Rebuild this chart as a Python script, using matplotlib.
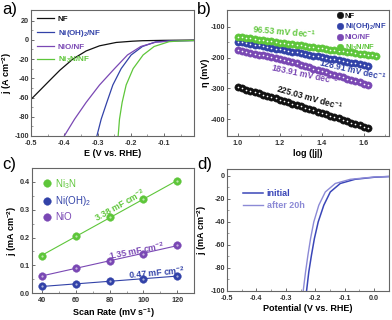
import numpy as np
import matplotlib
matplotlib.use("Agg")
import matplotlib.pyplot as plt

plt.rcParams['font.family'] = ['Liberation Sans', 'DejaVu Sans']
plt.rcParams['mathtext.default'] = 'regular'

# ---------------- data ----------------
# (a) polarization curves, E (V vs RHE) and j
a_nf_E = [-0.50, -0.443, -0.413, -0.374, -0.334, -0.294, -0.244, -0.195, -0.165, -0.10, -0.01]
a_nf_j = [-62, -42, -31.6, -20, -11.6, -6.3, -2.8, -1.5, -1.0, -0.6, -0.3]
a_nio_E = [-0.400, -0.369, -0.334, -0.294, -0.249, -0.210, -0.170, -0.125, -0.08, -0.01]
a_nio_j = [-100, -82.5, -65, -47, -30, -15.8, -7.0, -2.5, -1.4, -0.8]
a_ni_oh_E = [-0.302, -0.289, -0.272, -0.254, -0.229, -0.199, -0.165, -0.125, -0.08, -0.01]
a_ni_oh_j = [-100, -82.5, -65, -47, -30, -15.8, -7.0, -2.2, -1.2, -0.8]
a_ni3n_E = [-0.238, -0.234, -0.226, -0.214, -0.193, -0.163, -0.130, -0.085, -0.05, -0.01]
a_ni3n_j = [-100, -82.5, -65, -47, -30, -15.8, -7.0, -2.0, -1.2, -0.8]

# (b) Tafel plots
b_x_nf = [1.00, 1.02, 1.04, 1.06, 1.08, 1.10, 1.12, 1.14, 1.16, 1.18, 1.20, 1.22, 1.24, 1.26, 1.28, 1.30,
          1.32, 1.34, 1.36, 1.38, 1.40, 1.42, 1.44, 1.46, 1.48, 1.50, 1.52, 1.54, 1.56, 1.58, 1.60, 1.62]
b_y_nf = [-296.0, -300.0, -304.0, -308.1, -312.2, -316.3, -320.4, -324.5, -328.6, -332.8, -337.0, -341.2,
          -345.4, -349.7, -354.0, -358.3, -362.6, -366.9, -371.2, -375.6, -380.0, -384.4, -388.8, -393.3,
          -397.8, -402.3, -406.8, -411.3, -415.8, -420.4, -425.0, -429.6]
b_x_ni_oh = b_x_nf
b_y_ni_oh = [-148.0, -150.5, -153.0, -155.6, -158.1, -160.6, -163.1, -165.6, -168.2, -170.7, -173.2, -175.7,
             -178.2, -180.8, -183.3, -185.8, -188.3, -190.8, -193.4, -195.9, -198.4, -200.9, -203.4, -206.0,
             -208.5, -211.0, -213.5, -216.0, -218.6, -221.1, -223.6, -226.1]
b_x_nio = b_x_nf
b_y_nio = [-175.0, -178.0, -181.0, -184.0, -187.0, -190.0, -193.0, -196.0, -199.0, -202.0, -205.0, -208.0,
           -211.0, -214.0, -217.0, -223.5, -227.6, -231.6, -235.7, -239.8, -243.8, -247.9, -251.9, -256.0,
           -260.1, -264.1, -268.2, -272.2, -276.3, -280.4, -284.4, -288.5]
b_x_ni3n = [1.00, 1.02, 1.04, 1.06, 1.08, 1.10, 1.12, 1.14, 1.16, 1.18, 1.20, 1.22, 1.24, 1.26, 1.28, 1.30,
            1.32, 1.34, 1.36, 1.38, 1.40, 1.42, 1.44, 1.46, 1.48, 1.50, 1.52, 1.54, 1.56, 1.58, 1.60, 1.62,
            1.64, 1.66]
b_y_ni3n = [-132.0, -133.9, -135.8, -137.7, -139.6, -141.5, -143.4, -145.3, -147.2, -149.1, -151.0, -152.9,
            -154.8, -156.7, -158.6, -160.5, -162.4, -164.3, -166.2, -168.1, -170.0, -171.9, -173.8, -175.7,
            -177.6, -179.5, -181.4, -183.3, -185.2, -187.1, -189.0, -190.9, -192.8, -194.7]
b_slopes = ["96.53", "128.91", "183.91", "225.03"]

# (c) double-layer capacitance
c_scan = [40, 60, 80, 100, 120]
c_ni3n = [0.135, 0.205, 0.272, 0.340, 0.403]
c_ni_oh = [0.024, 0.033, 0.043, 0.052, 0.061]
c_nio = [0.062, 0.090, 0.117, 0.141, 0.172]
c_caps = ["3.38", "1.35", "0.47"]

# (d) stability
d_init_E = [-0.2296, -0.222, -0.213, -0.203, -0.190, -0.171, -0.149, -0.115, -0.065, 0.0, 0.05]
d_init_j = [-100, -83.5, -69, -54.5, -40, -25.5, -14, -6.6, -3.0, -1.2, -0.6]
d_aft_E = [-0.241, -0.233, -0.225, -0.216, -0.205, -0.188, -0.166, -0.132, -0.081, 0.0, 0.05]
d_aft_j = [-100, -83.5, -69, -54.5, -40, -25.5, -14, -6.6, -3.0, -1.0, -0.5]

# ---------------- style ----------------
C_NF = '#111111'
C_OH = '#3242a8'
C_NIO = '#7a48b4'
C_N = '#5ec63a'
C_D1 = '#3a46b8'
C_D2 = '#8c8ad6'

fig = plt.figure(figsize=(3.92, 3.2), dpi=100)
axa = fig.add_axes([0.079, 0.575, 0.416, 0.394])
axb = fig.add_axes([0.579, 0.575, 0.413, 0.394])
axc = fig.add_axes([0.082, 0.084, 0.413, 0.391])
axd = fig.add_axes([0.579, 0.091, 0.413, 0.381])

TL = 5.2
LBL = 6.5
for ax in (axa, axb, axc, axd):
    for s in ax.spines.values():
        s.set_color('#666666')
        s.set_linewidth(0.8)
    ax.tick_params(direction='in', length=2.5, width=0.6, colors='#555555', labelsize=TL,
                   labelcolor='#333333', pad=1.5)
    ax.tick_params(axis='x', pad=3)
    ax.tick_params(which='minor', direction='in', length=1.5, width=0.5, colors='#777777')

def boldticks(ax):
    for t in ax.get_xticklabels() + ax.get_yticklabels():
        t.set_fontweight('bold')

# ---- (a)
axa.plot(a_nf_E, a_nf_j, color=C_NF, lw=0.9, label='NF')
axa.plot(a_ni_oh_E, a_ni_oh_j, color=C_OH, lw=0.9, label='Ni(OH)$_2$/NF')
axa.plot(a_nio_E, a_nio_j, color=C_NIO, lw=0.9, label='NiO/NF')
axa.plot(a_ni3n_E, a_ni3n_j, color=C_N, lw=0.9, label='Ni$_3$N/NF')
axa.set_xlim(-0.5, -0.01)
axa.set_ylim(-100, 31)
axa.set_xticks([-0.5, -0.4, -0.3, -0.2, -0.1])
axa.set_xticklabels(['-0.5', '-0.4', '-0.3', '-0.2', '-0.1'])
axa.set_yticks([-100, -80, -60, -40, -20, 0, 20])
axa.set_yticklabels(['-100', '-80', '-60', '-40', '-20', '0', '20'])
axa.set_xticks(np.arange(-0.45, 0, 0.1), minor=True)
axa.set_yticks(np.arange(-90, 30, 20), minor=True)
axa.set_xlabel('E (V vs. RHE)', fontsize=LBL, fontweight='bold', labelpad=1.5)
axa.set_ylabel('j (A cm$^{-2}$)', fontsize=LBL, fontweight='bold', labelpad=0.5)
leg = axa.legend(loc='upper left', frameon=False, fontsize=5.8, handlelength=2.2, handletextpad=0.4,
                 labelspacing=0.55, borderaxespad=0.3, bbox_to_anchor=(0.0, 1.0))
for t, c in zip(leg.get_texts(), [C_NF, C_OH, C_NIO, C_N]):
    t.set_color(c); t.set_fontweight('bold')
boldticks(axa)

# ---- (b)
def tafel(ax, x, y, c, lab):
    ax.plot(x, y, 'o', ms=5.2, mfc=c, mec=c, mew=0.4, label=lab, zorder=2)
    ax.plot(x, y, 'o', ms=1.2, mfc='white', mec='white', mew=0, zorder=3)

tafel(axb, b_x_nf, b_y_nf, C_NF, 'NF')
tafel(axb, b_x_ni_oh, b_y_ni_oh, C_OH, 'Ni(OH)$_2$/NF')
tafel(axb, b_x_nio, b_y_nio, C_NIO, 'NiO/NF')
tafel(axb, b_x_ni3n, b_y_ni3n, C_N, 'Ni$_3$N/NF')
axb.set_xlim(0.948, 1.72)
axb.set_ylim(-455, -45)
axb.set_xticks([1.0, 1.2, 1.4, 1.6])
axb.set_xticklabels(['1.0', '1.2', '1.4', '1.6'])
axb.set_xticks([1.1, 1.3, 1.5, 1.7], minor=True)
axb.set_yticks([-400, -300, -200, -100])
axb.set_yticklabels(['-400', '-300', '-200', '-100'])
axb.set_yticks([-350, -250, -150], minor=True)
axb.set_xlabel('log (|j|)', fontsize=LBL, fontweight='bold', labelpad=1.5)
axb.set_ylabel('η (mV)', fontsize=LBL, fontweight='bold', labelpad=0.5)
h, l = axb.get_legend_handles_labels()
legb = axb.legend(h, l, loc='upper right', frameon=False, fontsize=5.5, handletextpad=0.1,
                  labelspacing=0.2, borderaxespad=0.15, markerscale=0.9, handlelength=1.0,
                  borderpad=0.2)
legb.set_zorder(10)
for t, c in zip(legb.get_texts(), [C_NF, C_OH, C_NIO, C_N]):
    t.set_color(c); t.set_fontweight('bold')
ann = dict(fontsize=6.2, fontweight='bold', ha='center', va='center')
axb.text(1.22, -118, b_slopes[0] + ' mV dec$^{-1}$', color=C_N, rotation=-5, **ann)
axb.text(1.545, -240, b_slopes[1] + ' mV dec$^{-1}$', color=C_OH, rotation=-13, **ann)
axb.text(1.32, -255, b_slopes[2] + ' mV dec$^{-1}$', color=C_NIO, rotation=-12, **ann)
axb.text(1.34, -330, b_slopes[3] + ' mV dec$^{-1}$', color=C_NF, rotation=-16, **ann)
boldticks(axb)

# ---- (c)
xs = np.array(c_scan, dtype=float)
labels_c = ['Ni$_3$N', 'Ni(OH)$_2$', 'NiO']
for ys, c, lab in zip([c_ni3n, c_ni_oh, c_nio], [C_N, C_OH, C_NIO], labels_c):
    p = np.polyfit(xs, ys, 1)
    axc.plot(xs, np.polyval(p, xs), color=c, lw=0.8, zorder=1)
    axc.plot(xs, ys, 'o', ms=5.5, mfc=c, mec=c, mew=0.3, label=lab, zorder=2)
    axc.plot(xs, ys, 'o', ms=1.6, mfc='white', mec='white', mew=0, alpha=0.6, zorder=3)
axc.set_xlim(34, 130)
axc.set_ylim(0, 0.45)
axc.set_xticks([40, 60, 80, 100, 120])
axc.set_xticks([50, 70, 90, 110], minor=True)
axc.set_yticks([0.0, 0.1, 0.2, 0.3, 0.4])
axc.set_yticklabels(['0.0', '0.1', '0.2', '0.3', '0.4'])
axc.set_yticks([0.05, 0.15, 0.25, 0.35], minor=True)
axc.set_xlabel('Scan Rate (mV s$^{-1}$)', fontsize=LBL, fontweight='bold', labelpad=1.5)
axc.set_ylabel('j (mA cm$^{-2}$)', fontsize=LBL, fontweight='bold', labelpad=1)
legc = axc.legend(loc='upper left', frameon=False, fontsize=7, handletextpad=0.3,
                  labelspacing=0.4, borderaxespad=0.5, handlelength=1.2)
for t, c in zip(legc.get_texts(), [C_N, C_OH, C_NIO]):
    t.set_color(c)
ann2 = dict(fontsize=6.3, fontweight='bold', ha='center', va='center')
axc.text(86, 0.315, c_caps[0] + ' mF cm$^{-2}$', color=C_N, rotation=29, **ann2)
axc.text(96, 0.152, c_caps[1] + ' mF cm$^{-2}$', color=C_NIO, rotation=11, **ann2)
axc.text(108, 0.075, c_caps[2] + ' mF cm$^{-2}$', color=C_OH, rotation=5, **ann2)
boldticks(axc)

# ---- (d)
axd.plot(d_init_E, d_init_j, color=C_D1, lw=1.1, label='initial')
axd.plot(d_aft_E, d_aft_j, color=C_D2, lw=1.0, label='after 20h')
axd.set_xlim(-0.5, 0.05)
axd.set_ylim(-100, 6)
axd.set_xticks([-0.5, -0.4, -0.3, -0.2, -0.1, 0.0])
axd.set_xticklabels(['-0.5', '-0.4', '-0.3', '-0.2', '-0.1', '0.0'])
axd.set_xticks([-0.45, -0.35, -0.25, -0.15, -0.05], minor=True)
axd.set_yticks([-100, -80, -60, -40, -20, 0])
axd.set_yticklabels(['-100', '-80', '-60', '-40', '-20', '0'])
axd.set_yticks([-90, -70, -50, -30, -10], minor=True)
axd.set_xlabel('Potential (V vs. RHE)', fontsize=LBL, fontweight='bold', labelpad=1.5)
axd.set_ylabel('j (mA cm$^{-2}$)', fontsize=LBL, fontweight='bold', labelpad=1)
legd = axd.legend(loc='upper left', frameon=False, fontsize=6.5, handlelength=2.2, handletextpad=0.4,
                  labelspacing=0.3, bbox_to_anchor=(0.05, 0.9))
for t, c in zip(legd.get_texts(), [C_D1, C_D2]):
    t.set_color(c); t.set_fontweight('bold')
boldticks(axd)

# panel letters
for x, y, s in [(0.005, 0.995, 'a)'), (0.503, 0.995, 'b)'), (0.005, 0.51, 'c)'), (0.503, 0.51, 'd)')]:
    fig.text(x, y, s, fontsize=12, ha='left', va='top')

fig.savefig('out.png', dpi=100)
